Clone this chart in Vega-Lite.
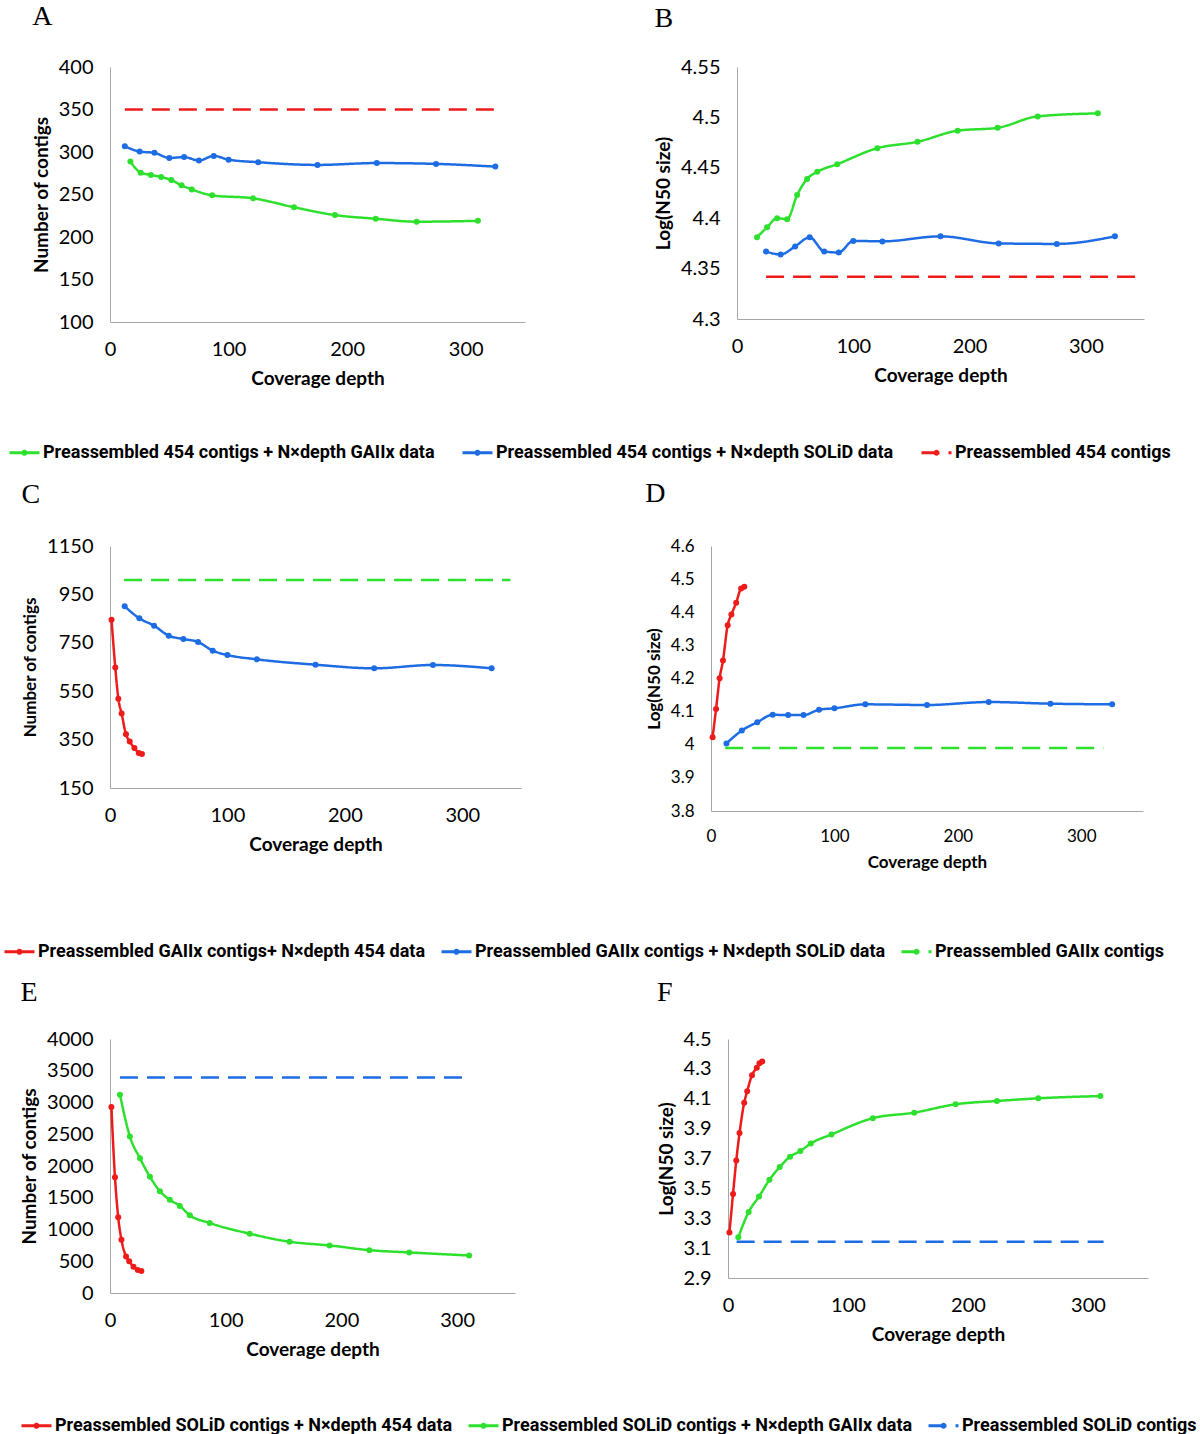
{
  "$schema": "https://vega.github.io/schema/vega-lite/v6.json",
  "background": "white",
  "padding": {"left": 3, "top": 3, "right": 0, "bottom": 0},
  "spacing": 18,
  "resolve": {"scale": {"color": "independent", "strokeDash": "independent"}, "legend": {"color": "independent", "strokeDash": "independent"}},
  "config": {
    "view": {"stroke": null},
    "axis": {"grid": false, "ticks": false, "domainColor": "#a6a6a6", "domainWidth": 1, "labelFont": "Lato", "labelFontSize": 20, "labelColor": "#000", "labelPadding": 17, "labelFlush": false, "titleFont": "Lato", "titleFontSize": 19, "titleFontWeight": "bold", "titleColor": "#000"},
    "axisX": {"titlePadding": 10},
    "axisY": {"titlePadding": 7},
    "legend": {"symbolType": "M-1,0H1M0.1,0A0.1,0.1,0,1,1,-0.1,0A0.1,0.1,0,1,1,0.1,0Z", "symbolSize": 900, "symbolStrokeWidth": 3, "labelFont": "Roboto", "labelFontSize": 18, "labelFontWeight": "bold", "labelColor": "#000", "labelLimit": 800, "columnPadding": 21, "labelOffset": 2},
    "title": {"font": "Liberation Serif", "fontSize": 28, "fontWeight": "normal", "color": "#000", "anchor": "start", "frame": "bounds", "offset": 14}
  },
  "datasets": {
    "A": [
      {"series": "Preassembled 454 contigs + N×depth GAIIx data", "depth": 17.2, "value": 288.7},
      {"series": "Preassembled 454 contigs + N×depth GAIIx data", "depth": 25.9, "value": 275.7},
      {"series": "Preassembled 454 contigs + N×depth GAIIx data", "depth": 34.5, "value": 273},
      {"series": "Preassembled 454 contigs + N×depth GAIIx data", "depth": 43.1, "value": 270.6},
      {"series": "Preassembled 454 contigs + N×depth GAIIx data", "depth": 51.7, "value": 267},
      {"series": "Preassembled 454 contigs + N×depth GAIIx data", "depth": 60.3, "value": 260.8},
      {"series": "Preassembled 454 contigs + N×depth GAIIx data", "depth": 69, "value": 256},
      {"series": "Preassembled 454 contigs + N×depth GAIIx data", "depth": 86.2, "value": 249},
      {"series": "Preassembled 454 contigs + N×depth GAIIx data", "depth": 120.7, "value": 245.5},
      {"series": "Preassembled 454 contigs + N×depth GAIIx data", "depth": 155.2, "value": 235},
      {"series": "Preassembled 454 contigs + N×depth GAIIx data", "depth": 189.7, "value": 225.8},
      {"series": "Preassembled 454 contigs + N×depth GAIIx data", "depth": 224.1, "value": 221.5},
      {"series": "Preassembled 454 contigs + N×depth GAIIx data", "depth": 258.6, "value": 218},
      {"series": "Preassembled 454 contigs + N×depth GAIIx data", "depth": 310.3, "value": 219},
      {"series": "Preassembled 454 contigs + N×depth SOLiD data", "depth": 12.5, "value": 306.8},
      {"series": "Preassembled 454 contigs + N×depth SOLiD data", "depth": 25, "value": 300.5},
      {"series": "Preassembled 454 contigs + N×depth SOLiD data", "depth": 37.5, "value": 299},
      {"series": "Preassembled 454 contigs + N×depth SOLiD data", "depth": 50, "value": 293},
      {"series": "Preassembled 454 contigs + N×depth SOLiD data", "depth": 62.5, "value": 294},
      {"series": "Preassembled 454 contigs + N×depth SOLiD data", "depth": 75, "value": 290},
      {"series": "Preassembled 454 contigs + N×depth SOLiD data", "depth": 87.5, "value": 295.4},
      {"series": "Preassembled 454 contigs + N×depth SOLiD data", "depth": 100, "value": 291},
      {"series": "Preassembled 454 contigs + N×depth SOLiD data", "depth": 125, "value": 288},
      {"series": "Preassembled 454 contigs + N×depth SOLiD data", "depth": 175, "value": 284.8},
      {"series": "Preassembled 454 contigs + N×depth SOLiD data", "depth": 225, "value": 287},
      {"series": "Preassembled 454 contigs + N×depth SOLiD data", "depth": 275, "value": 286},
      {"series": "Preassembled 454 contigs + N×depth SOLiD data", "depth": 325, "value": 282.8},
      {"series": "Preassembled 454 contigs", "depth": 12.5, "value": 350},
      {"series": "Preassembled 454 contigs", "depth": 325, "value": 350}
    ],
    "B": [
      {"series": "Preassembled 454 contigs + N×depth GAIIx data", "depth": 17.2, "value": 4.381},
      {"series": "Preassembled 454 contigs + N×depth GAIIx data", "depth": 25.9, "value": 4.391},
      {"series": "Preassembled 454 contigs + N×depth GAIIx data", "depth": 34.5, "value": 4.4},
      {"series": "Preassembled 454 contigs + N×depth GAIIx data", "depth": 43.1, "value": 4.399},
      {"series": "Preassembled 454 contigs + N×depth GAIIx data", "depth": 51.7, "value": 4.423},
      {"series": "Preassembled 454 contigs + N×depth GAIIx data", "depth": 60.3, "value": 4.439},
      {"series": "Preassembled 454 contigs + N×depth GAIIx data", "depth": 69, "value": 4.446},
      {"series": "Preassembled 454 contigs + N×depth GAIIx data", "depth": 86.2, "value": 4.4536},
      {"series": "Preassembled 454 contigs + N×depth GAIIx data", "depth": 120.7, "value": 4.4695},
      {"series": "Preassembled 454 contigs + N×depth GAIIx data", "depth": 155.2, "value": 4.4758},
      {"series": "Preassembled 454 contigs + N×depth GAIIx data", "depth": 189.7, "value": 4.4868},
      {"series": "Preassembled 454 contigs + N×depth GAIIx data", "depth": 224.1, "value": 4.4897},
      {"series": "Preassembled 454 contigs + N×depth GAIIx data", "depth": 258.6, "value": 4.501},
      {"series": "Preassembled 454 contigs + N×depth GAIIx data", "depth": 310.3, "value": 4.504},
      {"series": "Preassembled 454 contigs + N×depth SOLiD data", "depth": 25, "value": 4.367},
      {"series": "Preassembled 454 contigs + N×depth SOLiD data", "depth": 37.5, "value": 4.364},
      {"series": "Preassembled 454 contigs + N×depth SOLiD data", "depth": 50, "value": 4.372},
      {"series": "Preassembled 454 contigs + N×depth SOLiD data", "depth": 62.5, "value": 4.381},
      {"series": "Preassembled 454 contigs + N×depth SOLiD data", "depth": 75, "value": 4.367},
      {"series": "Preassembled 454 contigs + N×depth SOLiD data", "depth": 87.5, "value": 4.366},
      {"series": "Preassembled 454 contigs + N×depth SOLiD data", "depth": 100, "value": 4.3775},
      {"series": "Preassembled 454 contigs + N×depth SOLiD data", "depth": 125, "value": 4.377},
      {"series": "Preassembled 454 contigs + N×depth SOLiD data", "depth": 175, "value": 4.382},
      {"series": "Preassembled 454 contigs + N×depth SOLiD data", "depth": 225, "value": 4.375},
      {"series": "Preassembled 454 contigs + N×depth SOLiD data", "depth": 275, "value": 4.3745},
      {"series": "Preassembled 454 contigs + N×depth SOLiD data", "depth": 325, "value": 4.382},
      {"series": "Preassembled 454 contigs", "depth": 25, "value": 4.342},
      {"series": "Preassembled 454 contigs", "depth": 349, "value": 4.342}
    ],
    "C": [
      {"series": "Preassembled GAIIx contigs+ N×depth 454 data", "depth": 1.3, "value": 845},
      {"series": "Preassembled GAIIx contigs+ N×depth 454 data", "depth": 4.5, "value": 648},
      {"series": "Preassembled GAIIx contigs+ N×depth 454 data", "depth": 7.1, "value": 519},
      {"series": "Preassembled GAIIx contigs+ N×depth 454 data", "depth": 9.9, "value": 458},
      {"series": "Preassembled GAIIx contigs+ N×depth 454 data", "depth": 13.6, "value": 372},
      {"series": "Preassembled GAIIx contigs+ N×depth 454 data", "depth": 16.8, "value": 342},
      {"series": "Preassembled GAIIx contigs+ N×depth 454 data", "depth": 20.8, "value": 315},
      {"series": "Preassembled GAIIx contigs+ N×depth 454 data", "depth": 24.5, "value": 295},
      {"series": "Preassembled GAIIx contigs+ N×depth 454 data", "depth": 27.2, "value": 290},
      {"series": "Preassembled GAIIx contigs + N×depth SOLiD data", "depth": 12.5, "value": 900.7},
      {"series": "Preassembled GAIIx contigs + N×depth SOLiD data", "depth": 25, "value": 851},
      {"series": "Preassembled GAIIx contigs + N×depth SOLiD data", "depth": 37.5, "value": 820.8},
      {"series": "Preassembled GAIIx contigs + N×depth SOLiD data", "depth": 50, "value": 779.5},
      {"series": "Preassembled GAIIx contigs + N×depth SOLiD data", "depth": 62.5, "value": 765.7},
      {"series": "Preassembled GAIIx contigs + N×depth SOLiD data", "depth": 75, "value": 753.3},
      {"series": "Preassembled GAIIx contigs + N×depth SOLiD data", "depth": 87.5, "value": 717.5},
      {"series": "Preassembled GAIIx contigs + N×depth SOLiD data", "depth": 100, "value": 699.6},
      {"series": "Preassembled GAIIx contigs + N×depth SOLiD data", "depth": 125, "value": 681.7},
      {"series": "Preassembled GAIIx contigs + N×depth SOLiD data", "depth": 175, "value": 659.6},
      {"series": "Preassembled GAIIx contigs + N×depth SOLiD data", "depth": 225, "value": 644.5},
      {"series": "Preassembled GAIIx contigs + N×depth SOLiD data", "depth": 275, "value": 658.3},
      {"series": "Preassembled GAIIx contigs + N×depth SOLiD data", "depth": 325, "value": 644.5},
      {"series": "Preassembled GAIIx contigs", "depth": 12, "value": 1010},
      {"series": "Preassembled GAIIx contigs", "depth": 341, "value": 1010}
    ],
    "D": [
      {"series": "Preassembled GAIIx contigs+ N×depth 454 data", "depth": 1.3, "value": 4.023},
      {"series": "Preassembled GAIIx contigs+ N×depth 454 data", "depth": 4.1, "value": 4.108},
      {"series": "Preassembled GAIIx contigs+ N×depth 454 data", "depth": 7.0, "value": 4.201},
      {"series": "Preassembled GAIIx contigs+ N×depth 454 data", "depth": 9.7, "value": 4.254},
      {"series": "Preassembled GAIIx contigs+ N×depth 454 data", "depth": 13.5, "value": 4.361},
      {"series": "Preassembled GAIIx contigs+ N×depth 454 data", "depth": 16.5, "value": 4.393},
      {"series": "Preassembled GAIIx contigs+ N×depth 454 data", "depth": 20.4, "value": 4.429},
      {"series": "Preassembled GAIIx contigs+ N×depth 454 data", "depth": 24.4, "value": 4.472},
      {"series": "Preassembled GAIIx contigs+ N×depth 454 data", "depth": 27, "value": 4.477},
      {"series": "Preassembled GAIIx contigs + N×depth SOLiD data", "depth": 12.5, "value": 4.004},
      {"series": "Preassembled GAIIx contigs + N×depth SOLiD data", "depth": 25, "value": 4.043},
      {"series": "Preassembled GAIIx contigs + N×depth SOLiD data", "depth": 37.5, "value": 4.068},
      {"series": "Preassembled GAIIx contigs + N×depth SOLiD data", "depth": 50, "value": 4.0905},
      {"series": "Preassembled GAIIx contigs + N×depth SOLiD data", "depth": 62.5, "value": 4.0895},
      {"series": "Preassembled GAIIx contigs + N×depth SOLiD data", "depth": 75, "value": 4.0895},
      {"series": "Preassembled GAIIx contigs + N×depth SOLiD data", "depth": 87.5, "value": 4.1057},
      {"series": "Preassembled GAIIx contigs + N×depth SOLiD data", "depth": 100, "value": 4.11},
      {"series": "Preassembled GAIIx contigs + N×depth SOLiD data", "depth": 125, "value": 4.122},
      {"series": "Preassembled GAIIx contigs + N×depth SOLiD data", "depth": 175, "value": 4.12},
      {"series": "Preassembled GAIIx contigs + N×depth SOLiD data", "depth": 225, "value": 4.129},
      {"series": "Preassembled GAIIx contigs + N×depth SOLiD data", "depth": 275, "value": 4.124},
      {"series": "Preassembled GAIIx contigs + N×depth SOLiD data", "depth": 325, "value": 4.122},
      {"series": "Preassembled GAIIx contigs", "depth": 11.5, "value": 3.99},
      {"series": "Preassembled GAIIx contigs", "depth": 318, "value": 3.99}
    ],
    "E": [
      {"series": "Preassembled SOLiD contigs + N×depth 454 data", "depth": 1.2, "value": 2929},
      {"series": "Preassembled SOLiD contigs + N×depth 454 data", "depth": 4.3, "value": 1821},
      {"series": "Preassembled SOLiD contigs + N×depth 454 data", "depth": 7.1, "value": 1193},
      {"series": "Preassembled SOLiD contigs + N×depth 454 data", "depth": 9.9, "value": 839},
      {"series": "Preassembled SOLiD contigs + N×depth 454 data", "depth": 13.9, "value": 575},
      {"series": "Preassembled SOLiD contigs + N×depth 454 data", "depth": 16.6, "value": 501},
      {"series": "Preassembled SOLiD contigs + N×depth 454 data", "depth": 20.3, "value": 412},
      {"series": "Preassembled SOLiD contigs + N×depth 454 data", "depth": 24, "value": 364},
      {"series": "Preassembled SOLiD contigs + N×depth 454 data", "depth": 27.1, "value": 348},
      {"series": "Preassembled SOLiD contigs + N×depth GAIIx data", "depth": 8.6, "value": 3124},
      {"series": "Preassembled SOLiD contigs + N×depth GAIIx data", "depth": 17.2, "value": 2464},
      {"series": "Preassembled SOLiD contigs + N×depth GAIIx data", "depth": 25.9, "value": 2121},
      {"series": "Preassembled SOLiD contigs + N×depth GAIIx data", "depth": 34.5, "value": 1831},
      {"series": "Preassembled SOLiD contigs + N×depth GAIIx data", "depth": 43.1, "value": 1604},
      {"series": "Preassembled SOLiD contigs + N×depth GAIIx data", "depth": 51.7, "value": 1467},
      {"series": "Preassembled SOLiD contigs + N×depth GAIIx data", "depth": 60.3, "value": 1372},
      {"series": "Preassembled SOLiD contigs + N×depth GAIIx data", "depth": 69, "value": 1224},
      {"series": "Preassembled SOLiD contigs + N×depth GAIIx data", "depth": 86.2, "value": 1103},
      {"series": "Preassembled SOLiD contigs + N×depth GAIIx data", "depth": 120.7, "value": 934},
      {"series": "Preassembled SOLiD contigs + N×depth GAIIx data", "depth": 155.2, "value": 807},
      {"series": "Preassembled SOLiD contigs + N×depth GAIIx data", "depth": 189.7, "value": 749},
      {"series": "Preassembled SOLiD contigs + N×depth GAIIx data", "depth": 224.1, "value": 675},
      {"series": "Preassembled SOLiD contigs + N×depth GAIIx data", "depth": 258.6, "value": 639},
      {"series": "Preassembled SOLiD contigs + N×depth GAIIx data", "depth": 310.3, "value": 591},
      {"series": "Preassembled SOLiD contigs", "depth": 8.6, "value": 3393},
      {"series": "Preassembled SOLiD contigs", "depth": 310.6, "value": 3393}
    ],
    "F": [
      {"series": "Preassembled SOLiD contigs + N×depth 454 data", "depth": 1.2, "value": 3.205},
      {"series": "Preassembled SOLiD contigs + N×depth 454 data", "depth": 4.2, "value": 3.463},
      {"series": "Preassembled SOLiD contigs + N×depth 454 data", "depth": 6.9, "value": 3.687},
      {"series": "Preassembled SOLiD contigs + N×depth 454 data", "depth": 9.6, "value": 3.87},
      {"series": "Preassembled SOLiD contigs + N×depth 454 data", "depth": 13.5, "value": 4.073},
      {"series": "Preassembled SOLiD contigs + N×depth 454 data", "depth": 16, "value": 4.151},
      {"series": "Preassembled SOLiD contigs + N×depth 454 data", "depth": 20, "value": 4.258},
      {"series": "Preassembled SOLiD contigs + N×depth 454 data", "depth": 24, "value": 4.308},
      {"series": "Preassembled SOLiD contigs + N×depth 454 data", "depth": 26.2, "value": 4.337},
      {"series": "Preassembled SOLiD contigs + N×depth 454 data", "depth": 28.5, "value": 4.35},
      {"series": "Preassembled SOLiD contigs + N×depth GAIIx data", "depth": 8.6, "value": 3.173},
      {"series": "Preassembled SOLiD contigs + N×depth GAIIx data", "depth": 17.2, "value": 3.3415},
      {"series": "Preassembled SOLiD contigs + N×depth GAIIx data", "depth": 25.9, "value": 3.446},
      {"series": "Preassembled SOLiD contigs + N×depth GAIIx data", "depth": 34.5, "value": 3.557},
      {"series": "Preassembled SOLiD contigs + N×depth GAIIx data", "depth": 43.1, "value": 3.643},
      {"series": "Preassembled SOLiD contigs + N×depth GAIIx data", "depth": 51.7, "value": 3.712},
      {"series": "Preassembled SOLiD contigs + N×depth GAIIx data", "depth": 60.3, "value": 3.75},
      {"series": "Preassembled SOLiD contigs + N×depth GAIIx data", "depth": 69, "value": 3.801},
      {"series": "Preassembled SOLiD contigs + N×depth GAIIx data", "depth": 86.2, "value": 3.861},
      {"series": "Preassembled SOLiD contigs + N×depth GAIIx data", "depth": 120.7, "value": 3.97},
      {"series": "Preassembled SOLiD contigs + N×depth GAIIx data", "depth": 155.2, "value": 4.007},
      {"series": "Preassembled SOLiD contigs + N×depth GAIIx data", "depth": 189.7, "value": 4.063},
      {"series": "Preassembled SOLiD contigs + N×depth GAIIx data", "depth": 224.1, "value": 4.085},
      {"series": "Preassembled SOLiD contigs + N×depth GAIIx data", "depth": 258.6, "value": 4.103},
      {"series": "Preassembled SOLiD contigs + N×depth GAIIx data", "depth": 310.3, "value": 4.118},
      {"series": "Preassembled SOLiD contigs", "depth": 7.2, "value": 3.142},
      {"series": "Preassembled SOLiD contigs", "depth": 313, "value": 3.142}
    ]
  },
  "vconcat": [
    {
      "columns": 2, "align": "none", "spacing": 129,
      "concat": [
        {
          "width": 415, "height": 255,
          "title": {"text": "A", "offset": 26},
          "data": {"name": "A"},
          "encoding": {
            "x": {"field": "depth", "type": "quantitative", "scale": {"domain": [0, 350], "nice": false}, "axis": {"values": [0, 100, 200, 300], "title": "Coverage depth"}},
            "y": {"field": "value", "type": "quantitative", "scale": {"domain": [100, 400], "nice": false, "zero": false}, "axis": {"values": [100, 150, 200, 250, 300, 350, 400], "format": "d", "title": "Number of contigs"}}
          },
          "layer": [
            {"transform": [{"filter": {"not": {"field": "series", "equal": "Preassembled 454 contigs"}}}],
             "mark": {"type": "line", "interpolate": "monotone", "strokeWidth": 2.5, "point": {"filled": true, "size": 36}},
             "encoding": {
               "color": {"field": "series", "type": "nominal", "scale": {"domain": ["Preassembled 454 contigs + N×depth GAIIx data", "Preassembled 454 contigs + N×depth SOLiD data", "Preassembled 454 contigs"], "range": ["#2ee02e", "#1d6ce3", "#ee1b1b"]}, "legend": {"title": null, "orient": "none", "direction": "horizontal", "legendX": -102, "legendY": 369}},
               "strokeDash": {"field": "series", "type": "nominal", "scale": {"domain": ["Preassembled 454 contigs + N×depth GAIIx data", "Preassembled 454 contigs + N×depth SOLiD data", "Preassembled 454 contigs"], "range": [[1, 0], [1, 0], [18, 9]]}, "legend": {"title": null, "orient": "none", "direction": "horizontal", "legendX": -102, "legendY": 369}}
             }},
            {"transform": [{"filter": {"field": "series", "equal": "Preassembled 454 contigs"}}],
             "mark": {"type": "line", "strokeWidth": 2.5},
             "encoding": {
               "color": {"field": "series", "type": "nominal"},
               "strokeDash": {"field": "series", "type": "nominal"}
             }}
          ]
        },
        {
          "width": 407, "height": 252,
          "title": {"text": "B", "offset": 24},
          "data": {"name": "B"},
          "encoding": {
            "x": {"field": "depth", "type": "quantitative", "scale": {"domain": [0, 350], "nice": false}, "axis": {"values": [0, 100, 200, 300], "title": "Coverage depth"}},
            "y": {"field": "value", "type": "quantitative", "scale": {"domain": [4.3, 4.55], "nice": false, "zero": false}, "axis": {"values": [4.3, 4.35, 4.4, 4.45, 4.5, 4.55], "format": ".2~f", "title": "Log(N50 size)"}}
          },
          "layer": [
            {"transform": [{"filter": {"not": {"field": "series", "equal": "Preassembled 454 contigs"}}}],
             "mark": {"type": "line", "interpolate": "monotone", "strokeWidth": 2.5, "point": {"filled": true, "size": 36}},
             "encoding": {
               "color": {"field": "series", "type": "nominal", "scale": {"domain": ["Preassembled 454 contigs + N×depth GAIIx data", "Preassembled 454 contigs + N×depth SOLiD data", "Preassembled 454 contigs"], "range": ["#2ee02e", "#1d6ce3", "#ee1b1b"]}, "legend": {"title": null, "orient": "none", "direction": "horizontal", "legendX": -102, "legendY": 369}},
               "strokeDash": {"field": "series", "type": "nominal", "scale": {"domain": ["Preassembled 454 contigs + N×depth GAIIx data", "Preassembled 454 contigs + N×depth SOLiD data", "Preassembled 454 contigs"], "range": [[1, 0], [1, 0], [18, 9]]}, "legend": {"title": null, "orient": "none", "direction": "horizontal", "legendX": -102, "legendY": 369}}
             }},
            {"transform": [{"filter": {"field": "series", "equal": "Preassembled 454 contigs"}}],
             "mark": {"type": "line", "strokeWidth": 2.5},
             "encoding": {
               "color": {"field": "series", "type": "nominal"},
               "strokeDash": {"field": "series", "type": "nominal"}
             }}
          ]
        }
      ]
    },
    {
      "columns": 2, "align": "none", "spacing": 124,
      "concat": [
        {
          "width": 411, "height": 242,
          "title": {"text": "C", "offset": 27},
          "data": {"name": "C"},
          "encoding": {
            "x": {"field": "depth", "type": "quantitative", "scale": {"domain": [0, 350], "nice": false}, "axis": {"values": [0, 100, 200, 300], "title": "Coverage depth"}},
            "y": {"field": "value", "type": "quantitative", "scale": {"domain": [150, 1150], "nice": false, "zero": false}, "axis": {"values": [150, 350, 550, 750, 950, 1150], "format": "d", "title": "Number of contigs", "titleFontSize": 17}}
          },
          "layer": [
            {"transform": [{"filter": {"not": {"field": "series", "equal": "Preassembled GAIIx contigs"}}}],
             "mark": {"type": "line", "interpolate": "monotone", "strokeWidth": 2.5, "point": {"filled": true, "size": 36}},
             "encoding": {
               "color": {"field": "series", "type": "nominal", "scale": {"domain": ["Preassembled GAIIx contigs+ N×depth 454 data", "Preassembled GAIIx contigs + N×depth SOLiD data", "Preassembled GAIIx contigs"], "range": ["#ee1b1b", "#1d6ce3", "#2ee02e"]}, "legend": {"title": null, "orient": "none", "direction": "horizontal", "legendX": -107, "legendY": 389, "columnPadding": 9}},
               "strokeDash": {"field": "series", "type": "nominal", "scale": {"domain": ["Preassembled GAIIx contigs+ N×depth 454 data", "Preassembled GAIIx contigs + N×depth SOLiD data", "Preassembled GAIIx contigs"], "range": [[1, 0], [1, 0], [18, 9]]}, "legend": {"title": null, "orient": "none", "direction": "horizontal", "legendX": -107, "legendY": 389, "columnPadding": 9}}
             }},
            {"transform": [{"filter": {"field": "series", "equal": "Preassembled GAIIx contigs"}}],
             "mark": {"type": "line", "strokeWidth": 2.5},
             "encoding": {
               "color": {"field": "series", "type": "nominal"},
               "strokeDash": {"field": "series", "type": "nominal"}
             }}
          ]
        },
        {
          "width": 432, "height": 265,
          "title": {"text": "D", "offset": 29},
          "data": {"name": "D"},
          "encoding": {
            "x": {"field": "depth", "type": "quantitative", "scale": {"domain": [0, 350], "nice": false}, "axis": {"values": [0, 100, 200, 300], "title": "Coverage depth", "labelFontSize": 17, "titleFontSize": 17}},
            "y": {"field": "value", "type": "quantitative", "scale": {"domain": [3.8, 4.6], "nice": false, "zero": false}, "axis": {"values": [3.8, 3.9, 4, 4.1, 4.2, 4.3, 4.4, 4.5, 4.6], "format": ".1~f", "title": "Log(N50 size)", "labelFontSize": 17, "titleFontSize": 17}}
          },
          "layer": [
            {"transform": [{"filter": {"not": {"field": "series", "equal": "Preassembled GAIIx contigs"}}}],
             "mark": {"type": "line", "interpolate": "monotone", "strokeWidth": 2.5, "point": {"filled": true, "size": 36}},
             "encoding": {
               "color": {"field": "series", "type": "nominal", "scale": {"domain": ["Preassembled GAIIx contigs+ N×depth 454 data", "Preassembled GAIIx contigs + N×depth SOLiD data", "Preassembled GAIIx contigs"], "range": ["#ee1b1b", "#1d6ce3", "#2ee02e"]}, "legend": {"title": null, "orient": "none", "direction": "horizontal", "legendX": -107, "legendY": 389, "columnPadding": 9}},
               "strokeDash": {"field": "series", "type": "nominal", "scale": {"domain": ["Preassembled GAIIx contigs+ N×depth 454 data", "Preassembled GAIIx contigs + N×depth SOLiD data", "Preassembled GAIIx contigs"], "range": [[1, 0], [1, 0], [18, 9]]}, "legend": {"title": null, "orient": "none", "direction": "horizontal", "legendX": -107, "legendY": 389, "columnPadding": 9}}
             }},
            {"transform": [{"filter": {"field": "series", "equal": "Preassembled GAIIx contigs"}}],
             "mark": {"type": "line", "strokeWidth": 2.5},
             "encoding": {
               "color": {"field": "series", "type": "nominal"},
               "strokeDash": {"field": "series", "type": "nominal"}
             }}
          ]
        }
      ]
    },
    {
      "columns": 2, "align": "none", "spacing": 142,
      "concat": [
        {
          "width": 405, "height": 254,
          "title": {"text": "E", "offset": 22},
          "data": {"name": "E"},
          "encoding": {
            "x": {"field": "depth", "type": "quantitative", "scale": {"domain": [0, 350], "nice": false}, "axis": {"values": [0, 100, 200, 300], "title": "Coverage depth"}},
            "y": {"field": "value", "type": "quantitative", "scale": {"domain": [0, 4000], "nice": false}, "axis": {"values": [0, 500, 1000, 1500, 2000, 2500, 3000, 3500, 4000], "format": "d", "title": "Number of contigs"}}
          },
          "layer": [
            {"transform": [{"filter": {"not": {"field": "series", "equal": "Preassembled SOLiD contigs"}}}],
             "mark": {"type": "line", "interpolate": "monotone", "strokeWidth": 2.5, "point": {"filled": true, "size": 36}},
             "encoding": {
               "color": {"field": "series", "type": "nominal", "scale": {"domain": ["Preassembled SOLiD contigs + N×depth 454 data", "Preassembled SOLiD contigs + N×depth GAIIx data", "Preassembled SOLiD contigs"], "range": ["#ee1b1b", "#2ee02e", "#1d6ce3"]}, "legend": {"title": null, "orient": "none", "direction": "horizontal", "legendX": -90, "legendY": 370, "columnPadding": 9}},
               "strokeDash": {"field": "series", "type": "nominal", "scale": {"domain": ["Preassembled SOLiD contigs + N×depth 454 data", "Preassembled SOLiD contigs + N×depth GAIIx data", "Preassembled SOLiD contigs"], "range": [[1, 0], [1, 0], [18, 9]]}, "legend": {"title": null, "orient": "none", "direction": "horizontal", "legendX": -90, "legendY": 370, "columnPadding": 9}}
             }},
            {"transform": [{"filter": {"field": "series", "equal": "Preassembled SOLiD contigs"}}],
             "mark": {"type": "line", "strokeWidth": 2.5},
             "encoding": {
               "color": {"field": "series", "type": "nominal"},
               "strokeDash": {"field": "series", "type": "nominal"}
             }}
          ]
        },
        {
          "width": 420, "height": 239,
          "title": {"text": "F", "offset": 22},
          "data": {"name": "F"},
          "encoding": {
            "x": {"field": "depth", "type": "quantitative", "scale": {"domain": [0, 350], "nice": false}, "axis": {"values": [0, 100, 200, 300], "title": "Coverage depth"}},
            "y": {"field": "value", "type": "quantitative", "scale": {"domain": [2.9, 4.5], "nice": false, "zero": false}, "axis": {"values": [2.9, 3.1, 3.3, 3.5, 3.7, 3.9, 4.1, 4.3, 4.5], "format": ".1f", "title": "Log(N50 size)"}}
          },
          "layer": [
            {"transform": [{"filter": {"not": {"field": "series", "equal": "Preassembled SOLiD contigs"}}}],
             "mark": {"type": "line", "interpolate": "monotone", "strokeWidth": 2.5, "point": {"filled": true, "size": 36}},
             "encoding": {
               "color": {"field": "series", "type": "nominal", "scale": {"domain": ["Preassembled SOLiD contigs + N×depth 454 data", "Preassembled SOLiD contigs + N×depth GAIIx data", "Preassembled SOLiD contigs"], "range": ["#ee1b1b", "#2ee02e", "#1d6ce3"]}, "legend": {"title": null, "orient": "none", "direction": "horizontal", "legendX": -90, "legendY": 370, "columnPadding": 9}},
               "strokeDash": {"field": "series", "type": "nominal", "scale": {"domain": ["Preassembled SOLiD contigs + N×depth 454 data", "Preassembled SOLiD contigs + N×depth GAIIx data", "Preassembled SOLiD contigs"], "range": [[1, 0], [1, 0], [18, 9]]}, "legend": {"title": null, "orient": "none", "direction": "horizontal", "legendX": -90, "legendY": 370, "columnPadding": 9}}
             }},
            {"transform": [{"filter": {"field": "series", "equal": "Preassembled SOLiD contigs"}}],
             "mark": {"type": "line", "strokeWidth": 2.5},
             "encoding": {
               "color": {"field": "series", "type": "nominal"},
               "strokeDash": {"field": "series", "type": "nominal"}
             }}
          ]
        }
      ]
    }
  ]
}
